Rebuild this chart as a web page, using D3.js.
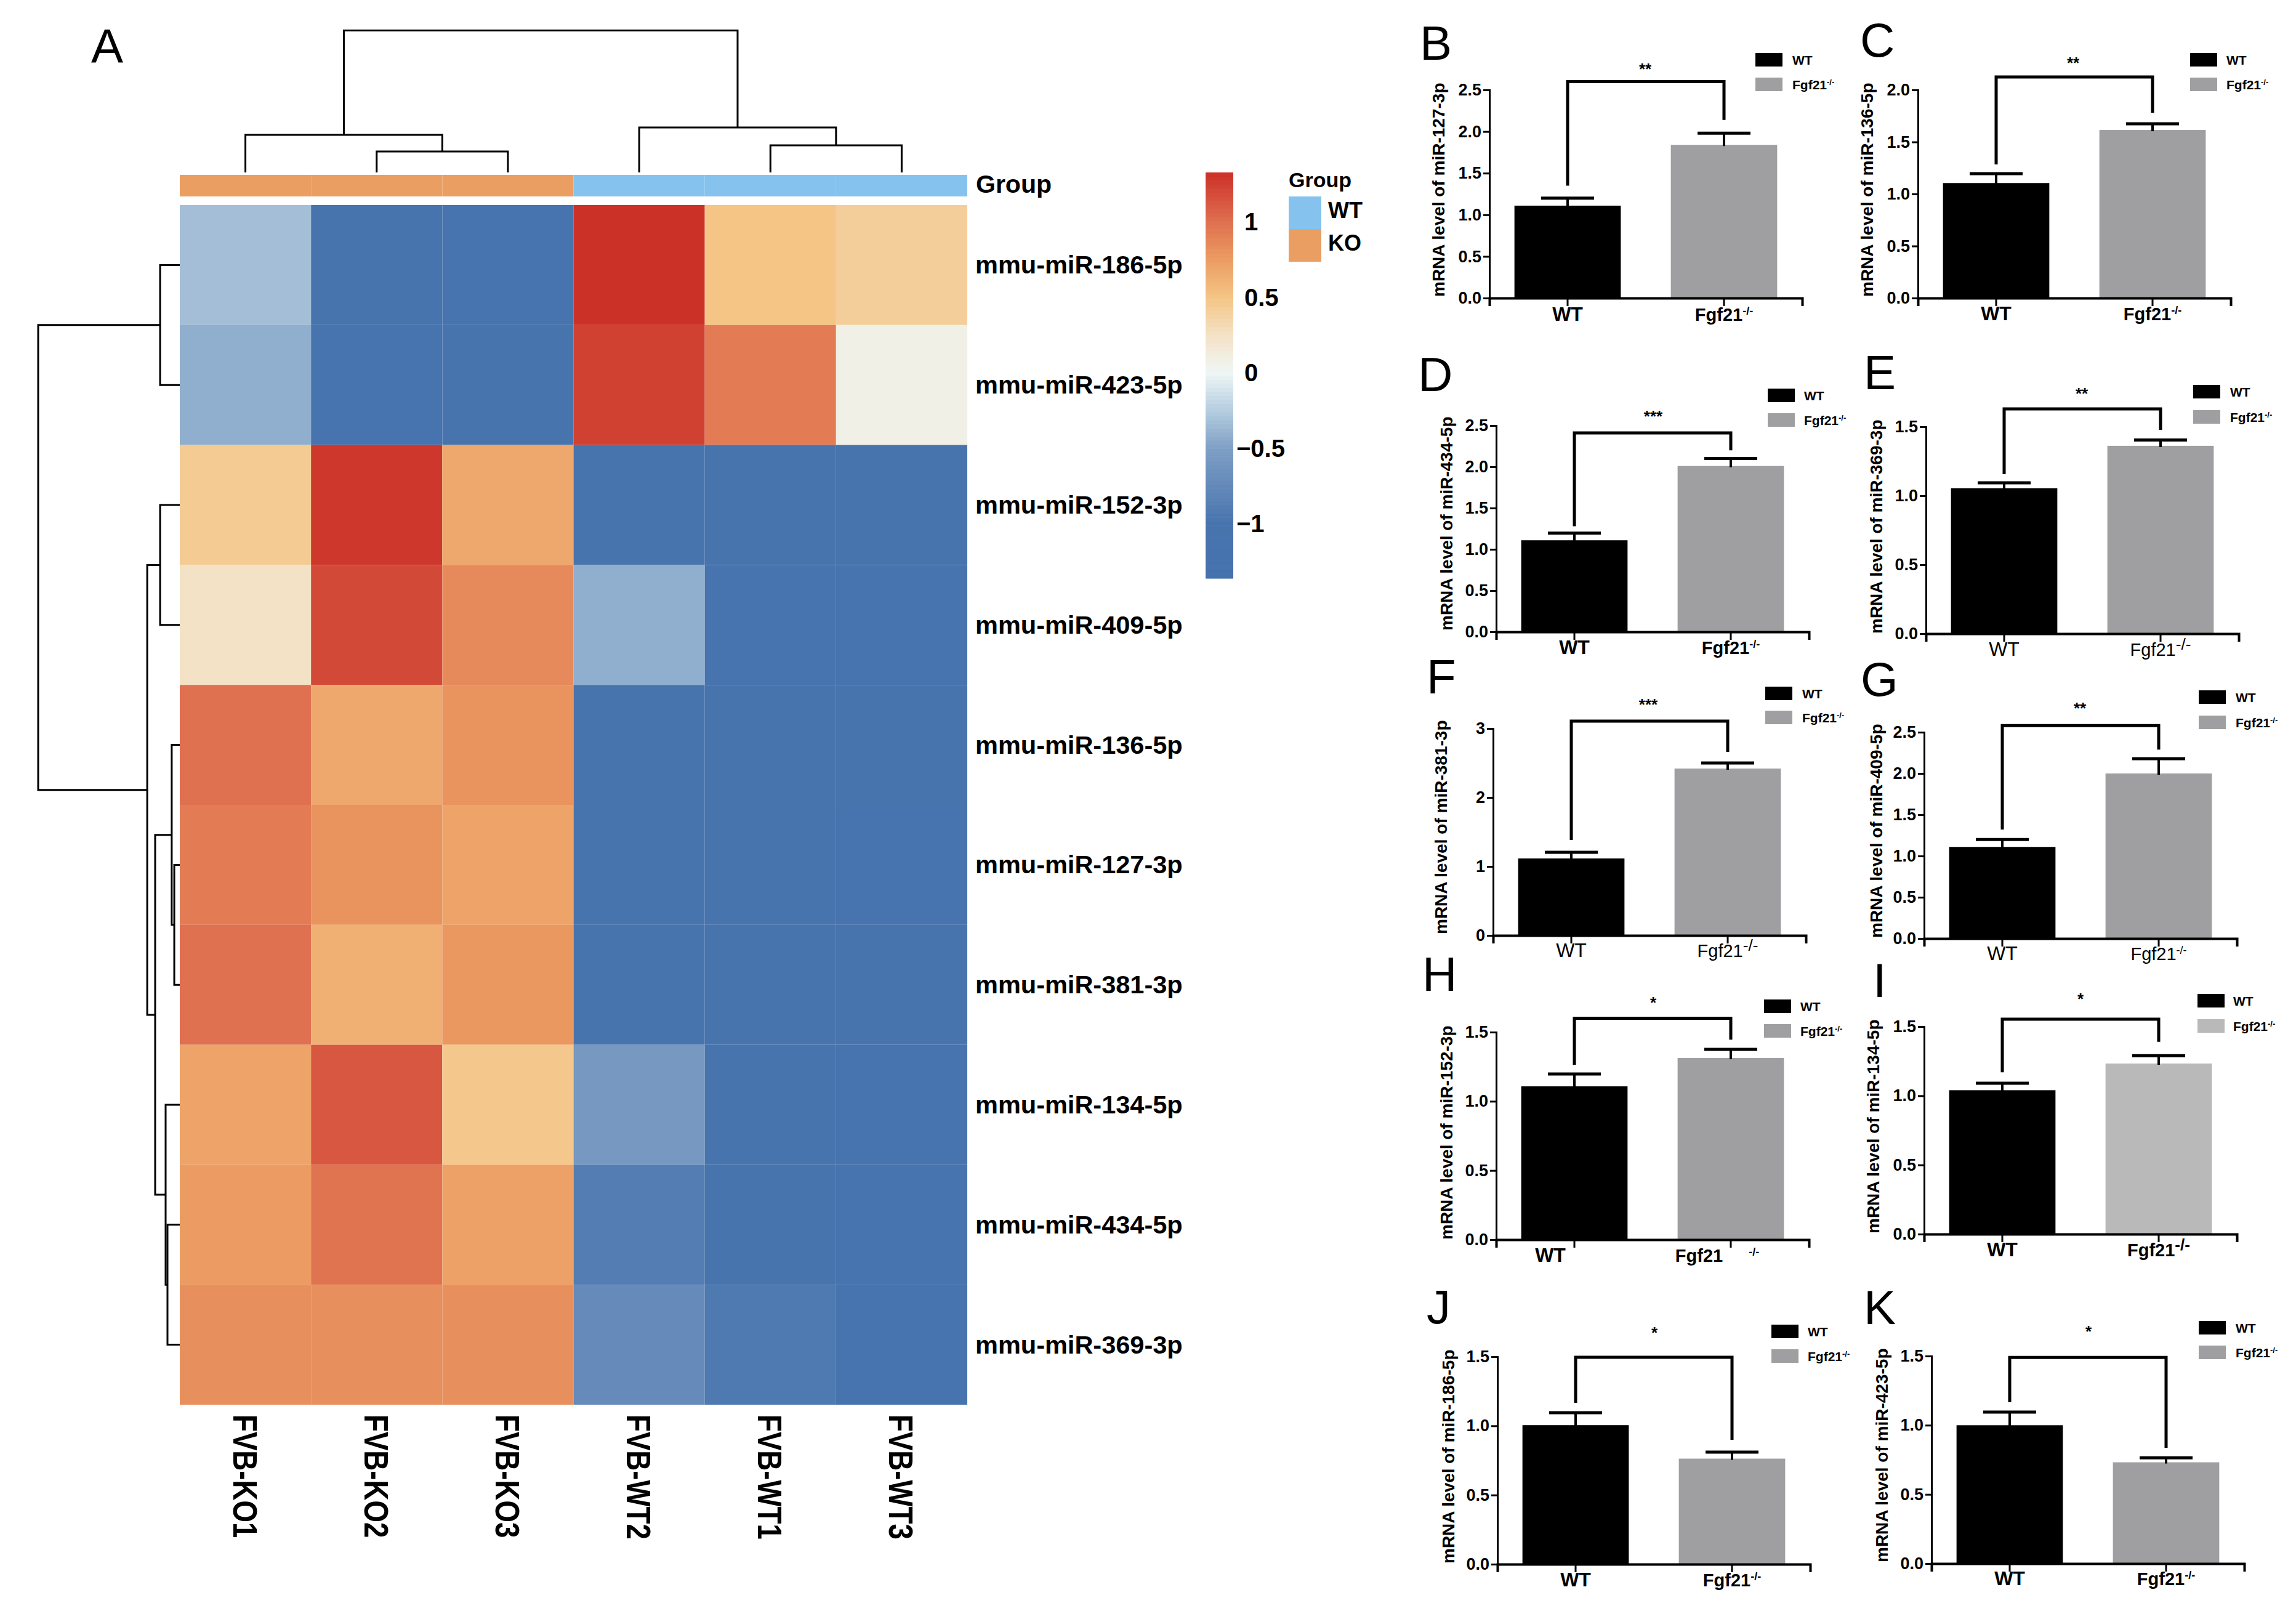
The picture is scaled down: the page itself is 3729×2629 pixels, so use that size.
<!DOCTYPE html>
<html lang="en">
<head>
  <meta charset="UTF-8" />
  <title>miRNA heatmap and qPCR panels</title>
  <style>
    body { margin: 0; background: #fff; }
    svg { display: block; font-family: "Liberation Sans", Arial, sans-serif; }
  </style>
  <script src="https://cdn.jsdelivr.net/npm/d3@7"></script>
</head>
<body>
  <div id="chart"></div>

  <script>
    // heatmap data
    const samples = ['FVB-KO1', 'FVB-KO2', 'FVB-KO3', 'FVB-WT2', 'FVB-WT1', 'FVB-WT3'];
    const sampleGroups = ['KO', 'KO', 'KO', 'WT', 'WT', 'WT'];
    const mirnas = ['mmu-miR-186-5p', 'mmu-miR-423-5p', 'mmu-miR-152-3p', 'mmu-miR-409-5p', 'mmu-miR-136-5p',
      'mmu-miR-127-3p', 'mmu-miR-381-3p', 'mmu-miR-134-5p', 'mmu-miR-434-5p', 'mmu-miR-369-3p'];
    const zscores = [
      [-0.33, -1.02, -1.08, 1.32, 0.50, 0.42],
      [-0.42, -1.10, -1.02, 1.24, 0.93, 0.08],
      [0.45, 1.29, 0.68, -1.02, -1.04, -1.04],
      [0.25, 1.20, 0.85, -0.42, -1.09, -1.07],
      [1.00, 0.68, 0.80, -1.02, -1.05, -1.05],
      [0.93, 0.80, 0.70, -1.02, -1.04, -1.07],
      [1.00, 0.63, 0.78, -1.02, -1.05, -1.06],
      [0.70, 1.13, 0.47, -0.58, -1.03, -1.07],
      [0.75, 0.98, 0.72, -0.90, -1.00, -1.07],
      [0.82, 0.82, 0.82, -0.73, -0.94, -1.09]
    ];
    const colorbarTicks = [1, 0.5, 0, -0.5, -1];
    const colorbarRange = [-1.363, 1.327];

    // clustering, R hclust style: negative = leaf, positive = earlier merge, last = height (root is 1)
    const colMerges = [[-2, -3, 0.148], [-1, 1, 0.265], [-5, -6, 0.191], [-4, 3, 0.317], [2, 4, 1]];
    const rowMerges = [[-1, -2, 0.139], [-3, -4, 0.139], [-6, -7, 0.039], [-5, 3, 0.057], [-9, -10, 0.087],
      [-8, 5, 0.1], [4, 6, 0.174], [2, 7, 0.23], [1, 8, 1]];

    // bar panels, in the order B..K
    const panelLetters = ['B', 'C', 'D', 'E', 'F', 'G', 'H', 'I', 'J', 'K'];
    const panelMirs = ['127-3p', '136-5p', '434-5p', '369-3p', '381-3p', '409-5p', '152-3p', '134-5p', '186-5p', '423-5p'];
    const yMaxes = [2.5, 2, 2.5, 1.5, 3, 2.5, 1.5, 1.5, 1.5, 1.5];
    const yTicks = [
      [0, 0.5, 1, 1.5, 2, 2.5], [0, 0.5, 1, 1.5, 2], [0, 0.5, 1, 1.5, 2, 2.5], [0, 0.5, 1, 1.5], [0, 1, 2, 3],
      [0, 0.5, 1, 1.5, 2, 2.5], [0, 0.5, 1, 1.5], [0, 0.5, 1, 1.5], [0, 0.5, 1, 1.5], [0, 0.5, 1, 1.5]
    ];
    const wtMeans = [1.11, 1.105, 1.11, 1.054, 1.116, 1.11, 1.108, 1.04, 1.005, 1.0];
    const wtUpper = [1.2, 1.195, 1.195, 1.094, 1.205, 1.2, 1.197, 1.09, 1.095, 1.095];
    const koMeans = [1.84, 1.615, 2.01, 1.362, 2.42, 2.0, 1.313, 1.233, 0.763, 0.732];
    const koUpper = [1.98, 1.675, 2.1, 1.404, 2.5, 2.18, 1.375, 1.29, 0.81, 0.765];
    const bracketTops = [2.6, 2.124, 2.41, 1.63, 3.107, 2.58, 1.6, 1.553, 1.495, 1.49];
    const bracketWt = [1.35, 1.284, 1.28, 1.156, 1.384, 1.32, 1.264, 1.17, 1.166, 1.166];
    const bracketKo = [2.14, 1.78, 2.2, 1.478, 2.66, 2.29, 1.446, 1.39, 0.899, 0.837];
    const stars = ['**', '**', '***', '**', '***', '**', '*', '*', '*', '*'];
    const barGroups = ['WT', 'Fgf21'];

    // where each panel sits on the page
    const layout = {
      B: { ax: 2419, base: 484, top: 146, letter: [2306, 97], title: [2336, 482], star: [2672, 109], legX: 2851, legY: [86, 126], textX: 2911, labelY: 521 },
      C: { ax: 3115, base: 484, top: 146, letter: [3021, 92], title: [3032, 482], star: [3367, 99], legX: 3557, legY: [86, 126], textX: 3616, labelY: 520 },
      D: { ax: 2430, base: 1026, top: 691, letter: [2303, 635], title: [2349, 1024], star: [2685, 673], legX: 2871, legY: [631, 671], textX: 2930, labelY: 1062 },
      E: { ax: 3128, base: 1029, top: 693, letter: [3027, 632], title: [3047, 1029], star: [3381, 636], legX: 3562, legY: [625, 666], textX: 3622, labelY: 1065, thin: true, bigSup: true },
      F: { ax: 2425, base: 1519, top: 1183, letter: [2317, 1126], title: [2340, 1517], star: [2677, 1141], legX: 2867, legY: [1115, 1154], textX: 2927, labelY: 1554, thin: true, bigSup: true },
      G: { ax: 3125, base: 1524, top: 1189, letter: [3022, 1130], title: [3047, 1523], star: [3378, 1147], legX: 3571, legY: [1121, 1162], textX: 3631, labelY: 1559, thin: true },
      H: { ax: 2430, base: 2013, top: 1676, letter: [2310, 1609], title: [2349, 2013], star: [2685, 1625], legX: 2865, legY: [1623, 1663], textX: 2924, labelY: 2049, labelDx: -39, koDx: -22, supGap: 42 },
      I: { ax: 3125, base: 2004, top: 1667, letter: [3042, 1619], title: [3042, 2003], star: [3379, 1619], legX: 3569, legY: [1614, 1655], textX: 3627, labelY: 2040, koColor: '#b9b9ba', bigSup: true },
      J: { ax: 2432, base: 2540, top: 2203, letter: [2317, 2149], title: [2352, 2539], star: [2687, 2161], legX: 2877, legY: [2151, 2191], textX: 2936, labelY: 2576 },
      K: { ax: 3137, base: 2539, top: 2202, letter: [3027, 2150], title: [3056, 2537], star: [3392, 2159], legX: 3571, legY: [2145, 2185], textX: 3631, labelY: 2574 }
    };

    const width = 3729, height = 2629;
    const groupColors = { KO: '#eb9e62', WT: '#85c3ee' };

    const svg = d3.select('#chart').append('svg')
      .attr('width', width)
      .attr('height', height)
      .attr('viewBox', `0 0 ${width} ${height}`);
    svg.append('rect').attr('width', width).attr('height', height).attr('fill', '#fff');

    // ---- heatmap ----
    const heatColor = d3.scaleLinear()
      .domain([-1.363, -1, -0.5, -0.25, 0, 0.25, 0.5, 0.75, 1, 1.327])
      .range(['#4571ad', '#4874ae', '#7f9fc5', '#b5cde0', '#eff6f5', '#f4e2c6', '#f4c585', '#ec9c62', '#df7050', '#cc3027'])
      .clamp(true);

    const xCell = d3.scaleBand().domain(samples).range([292, 1571]);
    const yCell = d3.scaleBand().domain(mirnas).range([333, 2281]);

    const rows = svg.append('g').selectAll('g').data(zscores).join('g');
    rows.selectAll('rect')
      .data((vals, r) => vals.map((v, c) => ({ v, sample: samples[c], mirna: mirnas[r] })))
      .join('rect')
      .attr('x', d => xCell(d.sample))
      .attr('y', d => yCell(d.mirna))
      .attr('width', xCell.bandwidth())
      .attr('height', yCell.bandwidth())
      .attr('fill', d => heatColor(d.v));

    svg.append('g').selectAll('rect').data(samples).join('rect')
      .attr('x', d => xCell(d))
      .attr('y', 284)
      .attr('width', xCell.bandwidth())
      .attr('height', 35)
      .attr('fill', (d, i) => groupColors[sampleGroups[i]]);

    svg.append('text').text('Group')
      .attr('x', 1585).attr('y', 313)
      .attr('font-size', 41).attr('font-weight', 'bold');

    svg.append('g').selectAll('text').data(mirnas).join('text')
      .text(d => d)
      .attr('x', 1584)
      .attr('y', d => yCell(d) + yCell.bandwidth() / 2 + 14)
      .attr('font-size', 41.5)
      .attr('font-weight', 'bold');

    svg.append('g').selectAll('text').data(samples).join('text')
      .text(d => d)
      .attr('transform', d => `translate(${xCell(d) + xCell.bandwidth() / 2 - 20},2297) rotate(90) scale(0.83,1)`)
      .attr('font-size', 55)
      .attr('font-weight', 'bold');

    // dendrograms
    function drawDendrogram(merges, leafPos, toPath) {
      const nodes = [];
      const place = id => id < 0 ? { pos: leafPos(-id - 1), h: 0 } : nodes[id - 1];
      merges.forEach(([a, b, h]) => {
        const l = place(a), r = place(b);
        nodes.push({ pos: (l.pos + r.pos) / 2, h, l, r });
      });
      svg.append('g').selectAll('path').data(nodes).join('path')
        .attr('d', n => toPath(n))
        .attr('fill', 'none')
        .attr('stroke', '#000')
        .attr('stroke-width', 3);
    }

    const colH = d3.scaleLinear().domain([0, 1]).range([280, 49.5]);
    drawDendrogram(colMerges, i => xCell(samples[i]) + xCell.bandwidth() / 2, n =>
      `M${n.l.pos},${colH(n.l.h)}V${colH(n.h)}H${n.r.pos}V${colH(n.r.h)}`);

    const rowH = d3.scaleLinear().domain([0, 1]).range([292, 62]);
    drawDendrogram(rowMerges, i => yCell(mirnas[i]) + yCell.bandwidth() / 2, n =>
      `M${rowH(n.l.h)},${n.l.pos}H${rowH(n.h)}V${n.r.pos}H${rowH(n.r.h)}`);

    // colour bar
    const barY = d3.scaleLinear().domain(colorbarRange).range([939, 280]);
    const barSteps = d3.range(100).map(i => colorbarRange[0] + (colorbarRange[1] - colorbarRange[0]) * i / 100);
    const barStep = (colorbarRange[1] - colorbarRange[0]) / 100;
    svg.append('g').selectAll('rect').data(barSteps).join('rect')
      .attr('x', 1958)
      .attr('y', d => barY(d + barStep))
      .attr('width', 45)
      .attr('height', barY(0) - barY(barStep) + 0.6)
      .attr('fill', d => heatColor(d + barStep / 2));

    svg.append('g').selectAll('text').data(colorbarTicks).join('text')
      .text(d => d3.format('')(d).replace('-', '\u2212'))
      .attr('x', d => d < 0 ? 2008 : 2021)
      .attr('y', d => barY(d) + 14)
      .attr('font-size', 40)
      .attr('font-weight', 'bold');

    // group legend
    svg.append('text').text('Group')
      .attr('x', 2093).attr('y', 304)
      .attr('font-size', 34).attr('font-weight', 'bold');
    ['WT', 'KO'].forEach((g, i) => {
      svg.append('rect')
        .attr('x', 2093).attr('y', 319 + i * 53)
        .attr('width', 53).attr('height', 53)
        .attr('fill', groupColors[g]);
      svg.append('text').text(g)
        .attr('x', 2157).attr('y', 354 + i * 53)
        .attr('font-size', 36).attr('font-weight', 'bold');
    });

    // panel A letter
    svg.append('text').text('A')
      .attr('x', 148).attr('y', 102)
      .attr('font-size', 78);

    // ---- bar panels ----
    function fgf21Label(sel, size, weight, gap, supScale) {
      sel.attr('font-size', size).attr('font-weight', weight);
      sel.append('tspan').text('Fgf21');
      sel.append('tspan').text('-/-')
        .attr('dx', gap || 0)
        .attr('dy', -size * 0.35)
        .attr('font-size', size * (supScale || 0.62));
    }

    panelLetters.forEach((letter, i) => {
      const p = layout[letter];
      const koColor = p.koColor || '#9f9fa1';
      const labelWeight = p.thin ? 'normal' : 'bold';
      const g = svg.append('g');

      g.append('text').text(letter)
        .attr('x', p.letter[0]).attr('y', p.letter[1])
        .attr('font-size', 78);

      const x = d3.scaleBand().domain(barGroups).range([p.ax, p.ax + 508])
        .paddingInner(0.32).paddingOuter(0.16);
      const y = d3.scaleLinear().domain([0, yMaxes[i]]).range([p.base, p.top]);
      const bars = [
        { group: 'WT', mean: wtMeans[i], upper: wtUpper[i], color: '#000' },
        { group: 'Fgf21', mean: koMeans[i], upper: koUpper[i], color: koColor }
      ];
      const cx = d => x(d) + x.bandwidth() / 2;

      g.selectAll('.bar').data(bars).join('rect')
        .attr('class', 'bar')
        .attr('x', d => x(d.group))
        .attr('y', d => y(d.mean))
        .attr('width', x.bandwidth())
        .attr('height', d => y(0) - y(d.mean))
        .attr('fill', d => d.color);

      // error bars
      g.selectAll('.stem').data(bars).join('line')
        .attr('class', 'stem')
        .attr('x1', d => cx(d.group)).attr('x2', d => cx(d.group))
        .attr('y1', d => y(d.mean) + 2).attr('y2', d => y(d.upper))
        .attr('stroke', '#000').attr('stroke-width', 4);
      g.selectAll('.cap').data(bars).join('line')
        .attr('class', 'cap')
        .attr('x1', d => cx(d.group) - 43).attr('x2', d => cx(d.group) + 43)
        .attr('y1', d => y(d.upper)).attr('y2', d => y(d.upper))
        .attr('stroke', '#000').attr('stroke-width', 5);

      // axes
      const yAxis = g.append('g')
        .attr('transform', `translate(${p.ax},0)`)
        .call(d3.axisLeft(y).tickValues(yTicks[i]).tickSizeOuter(0).tickSize(10).tickPadding(3)
          .tickFormat(yMaxes[i] === 3 ? d3.format('d') : d3.format('.1f')));
      const xAxis = g.append('g')
        .attr('transform', `translate(0,${p.base})`)
        .call(d3.axisBottom(x).tickSizeOuter(0).tickSize(13).tickFormat(''));
      yAxis.selectAll('text').attr('font-size', 27).attr('font-weight', 'bold')
        .attr('font-family', '"Liberation Sans", Arial, sans-serif').attr('fill', '#000');
      yAxis.selectAll('line').attr('stroke-width', 3);
      yAxis.select('.domain').attr('stroke-width', 3);
      xAxis.selectAll('line').attr('stroke-width', 3);
      xAxis.select('.domain').attr('stroke-width', 4);

      // x labels, the -/- is a superscript
      g.append('text').text('WT')
        .attr('x', cx('WT') + (p.labelDx || 0)).attr('y', p.labelY)
        .attr('text-anchor', 'middle')
        .attr('font-size', 32).attr('font-weight', labelWeight);
      g.append('text')
        .attr('x', cx('Fgf21') + (p.koDx || 0)).attr('y', p.labelY)
        .attr('text-anchor', 'middle')
        .call(fgf21Label, 29, labelWeight, p.supGap, p.bigSup ? 0.9 : 0.62);

      // y title
      g.append('text').text(`mRNA level of miR-${panelMirs[i]}`)
        .attr('transform', `translate(${p.title[0] + 10},${p.title[1]}) rotate(-90)`)
        .attr('font-size', 28).attr('font-weight', 'bold');

      // significance bracket
      g.append('path')
        .attr('d', `M${cx('WT')},${y(bracketWt[i])}V${y(bracketTops[i])}H${cx('Fgf21')}V${y(bracketKo[i])}`)
        .attr('fill', 'none')
        .attr('stroke', '#000')
        .attr('stroke-width', 5);
      g.append('text').text(stars[i])
        .attr('x', p.star[0]).attr('y', p.star[1] + 12)
        .attr('text-anchor', 'middle')
        .attr('font-size', 26).attr('font-weight', 'bold');

      // legend
      bars.forEach((b, k) => {
        g.append('rect')
          .attr('x', p.legX).attr('y', p.legY[k])
          .attr('width', 44).attr('height', 22)
          .attr('fill', b.color);
      });
      g.append('text').text('WT')
        .attr('x', p.textX).attr('y', p.legY[0] + 19)
        .attr('font-size', 21).attr('font-weight', 'bold');
      g.append('text')
        .attr('x', p.textX).attr('y', p.legY[1] + 19)
        .call(fgf21Label, 21, 'bold');
    });
  </script>
</body>
</html>
